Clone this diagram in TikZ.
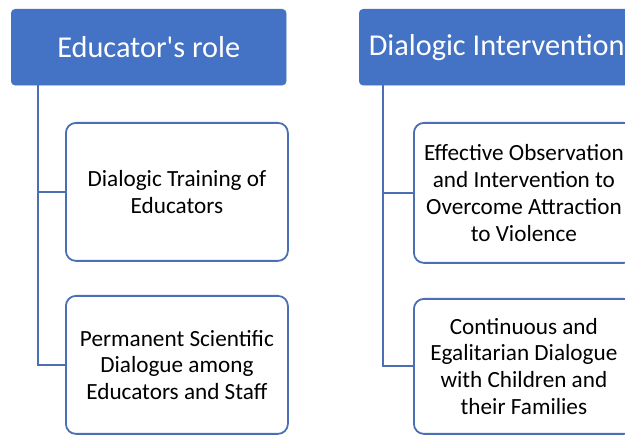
\documentclass[tikz,border=0pt]{standalone}
\usepackage{fontspec}
\setmainfont{Carlito}
\definecolor{hdr}{HTML}{4472C4}
\definecolor{ln}{HTML}{4A6FB5}
\begin{document}
\begin{tikzpicture}[x=1pt,y=-1pt,
  hdrbox/.style={fill=hdr, draw=hdr, rounded corners=4pt, text=white,
    font=\fontsize{30.3}{34}\selectfont, minimum width=275pt, minimum height=76pt,
    anchor=north west, inner sep=0pt},
  childbox/.style={draw=ln, line width=1.8pt, rounded corners=10pt, fill=white,
    minimum width=222pt, anchor=north west, align=center, inner sep=0pt,
    font=\fontsize{23.2}{26.8}\selectfont},
  conn/.style={draw=ln, line width=1.8pt}]
\useasboundingbox (0,0) rectangle (625,435);
\clip (0,0) rectangle (625,435);
% left column
\node[hdrbox] (h1) at (11,9) {Educator\textquotesingle s role};
\node[childbox, minimum height=138pt] (c1) at (65,122) {Dialogic Training of\\Educators};
\node[childbox, minimum height=138pt] (c2) at (65,295) {Permanent Scientific\\Dialogue among\\Educators and Staff};
\coordinate (t1) at ([xshift=27pt]h1.south west);
\draw[conn] (t1) |- (c1.west);
\draw[conn] (t1) |- (c2.west);
% right column
\node[hdrbox] (h2) at (359,9) {Dialogic Intervention};
\node[childbox, minimum width=220pt, minimum height=140pt] (r1) at (413,122) {Effective Observation\\and Intervention to\\Overcome Attraction\\to Violence};
\node[childbox, minimum width=220pt, minimum height=135pt] (r2) at (413,298) {Continuous and\\Egalitarian Dialogue\\with Children and\\their Families};
\coordinate (t2) at ([xshift=24pt]h2.south west);
\draw[conn] (t2) |- (r1.west);
\draw[conn] (t2) |- (r2.west);
\end{tikzpicture}
\end{document}
